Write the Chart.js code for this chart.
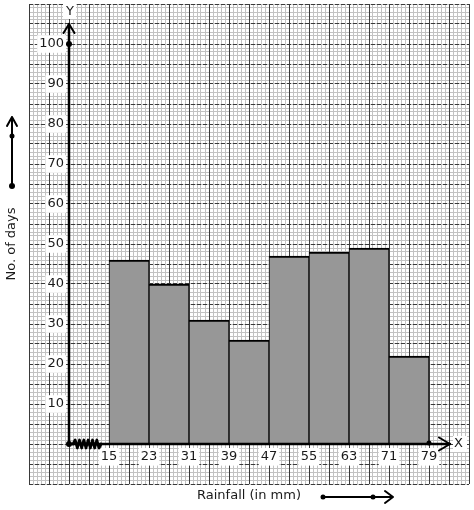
<!DOCTYPE html>
<html>
<head>
<meta charset="utf-8">
<script src="https://cdn.jsdelivr.net/npm/chart.js@4/dist/chart.umd.min.js"></script>
<style>
  html, body { margin: 0; padding: 0; background: #fff; }
</style>
</head>
<body>
<canvas id="chart" width="474" height="510"></canvas>
<script>
// --- data: rainfall classes (lower bounds, width 8 mm) and number of days ---
const classStarts = [15, 23, 31, 39, 47, 55, 63, 71];
const classWidth = 8;
const days = [46, 40, 31, 26, 47, 48, 49, 22];
const xTickLabels = [15, 23, 31, 39, 47, 55, 63, 71, 79];
const yTickLabels = [10, 20, 30, 40, 50, 60, 70, 80, 90, 100];

// visible window of the graph paper, in data units
const xMin = -1, xMax = 87;
const yMin = -10, yMax = 110;
const xOrigin = 7; // y axis sits here, the x scale is broken between 7 and 15

const FONT = 'DejaVu Sans';

// grid helper: tick values every `step` across [min, max]
function gridTicks(min, max, step) {
    const n = Math.round((max - min) / step);
    return Array.from({ length: n + 1 }, (_, i) => ({ value: min + i * step }));
}

function gridAxis(axis, min, max, step, color, z, dash) {
    return {
        type: 'linear', axis: axis, min: min, max: max, offset: false,
        position: axis === 'x' ? 'bottom' : 'left',
        afterBuildTicks: s => { s.ticks = gridTicks(min, max, step); },
        ticks: { display: false },
        grid: { color: color, lineWidth: 1, drawTicks: false, offset: false, z: z },
        border: { display: false, dash: dash || [] }
    };
}

function labelTicks(padding) {
    return {
        autoSkip: false, padding: padding, color: '#1a1a1a', z: 1,
        font: { family: FONT, size: 13 },
        showLabelBackdrop: true, backdropColor: '#ffffff',
        backdropPadding: { top: 1, bottom: 1, left: 2, right: 2 }
    };
}

// axis lines, arrows, kink and titles drawn on top
const paperExtras = {
    id: 'paperExtras',
    afterDraw(chart) {
        const ctx = chart.ctx;
        const x = chart.scales.x, y = chart.scales.y;
        const ox = x.getPixelForValue(xOrigin), oy = y.getPixelForValue(0);
        const yTip = y.getPixelForValue(105), xTip = x.getPixelForValue(83.2);

        ctx.save();
        ctx.strokeStyle = '#000';
        ctx.fillStyle = '#000';
        ctx.lineCap = 'round';
        ctx.lineJoin = 'round';

        // axes
        ctx.lineWidth = 2.5;
        ctx.beginPath();
        ctx.moveTo(ox, oy); ctx.lineTo(ox, yTip);
        ctx.moveTo(ox, oy); ctx.lineTo(xTip, oy);
        ctx.stroke();
        ctx.lineWidth = 2;
        ctx.beginPath();
        ctx.moveTo(ox - 5.5, yTip + 9); ctx.lineTo(ox, yTip); ctx.lineTo(ox + 5.5, yTip + 9);
        ctx.moveTo(xTip - 11, oy - 6.5); ctx.lineTo(xTip, oy); ctx.lineTo(xTip - 11, oy + 6.5);
        ctx.stroke();

        // kink on the x axis
        ctx.lineWidth = 2.8;
        ctx.beginPath();
        const k0 = ox + 4, k1 = x.getPixelForValue(classStarts[0]) - 10;
        const seg = (k1 - k0) / 12;
        ctx.moveTo(k0, oy);
        for (let i = 1; i <= 12; i++) {
            ctx.lineTo(k0 + i * seg, oy + (i % 2 ? -4 : 4));
        }
        ctx.lineTo(k1 + 2, oy);
        ctx.stroke();

        // dots
        const dot = (px, py, r) => { ctx.beginPath(); ctx.arc(px, py, r, 0, Math.PI * 2); ctx.fill(); };
        dot(ox, oy, 3);
        dot(ox, y.getPixelForValue(100), 3);
        dot(x.getPixelForValue(79), oy - 1, 2.5);

        // axis letters
        ctx.font = '13px "' + FONT + '"';
        ctx.textAlign = 'center';
        ctx.textBaseline = 'middle';
        ctx.fillStyle = '#fff';
        ctx.fillRect(ox - 6, 4, 13, 15);
        ctx.fillRect(xTip + 3, oy - 8, 14, 16);
        ctx.fillStyle = '#1a1a1a';
        ctx.fillText('Y', ox + 1, 12);
        ctx.fillText('X', xTip + 8.5, oy);

        // y title with its arrow
        ctx.save();
        ctx.translate(12, 244);
        ctx.rotate(-Math.PI / 2);
        ctx.fillText('No. of days', 0, 0);
        ctx.restore();
        ctx.fillStyle = '#000';
        ctx.lineWidth = 2;
        ctx.beginPath();
        ctx.moveTo(12, 186); ctx.lineTo(12, 117);
        ctx.moveTo(7, 126); ctx.lineTo(12, 117); ctx.lineTo(17, 126);
        ctx.stroke();
        dot(12, 186, 3);
        dot(12, 136, 2.5);

        // x title with its arrow
        ctx.fillStyle = '#1a1a1a';
        ctx.fillText('Rainfall (in mm)', 249, 496);
        ctx.fillStyle = '#000';
        ctx.beginPath();
        ctx.moveTo(323, 497); ctx.lineTo(393, 497);
        ctx.moveTo(385, 491); ctx.lineTo(393, 497); ctx.lineTo(385, 503);
        ctx.stroke();
        dot(323, 497, 2.5);
        dot(373, 497, 2.5);

        ctx.restore();
    }
};

new Chart(document.getElementById('chart'), {
    type: 'bar',
    data: {
        datasets: [{
            label: 'No. of days',
            xAxisID: 'x',
            yAxisID: 'y',
            data: classStarts.map((s, i) => ({ x: s + classWidth / 2, y: days[i] })),
            backgroundColor: '#979797',
            borderColor: '#000',
            borderWidth: { top: 2, left: 1, right: 1, bottom: 0 },
            borderSkipped: false,
            barPercentage: 1,
            categoryPercentage: 1
        }]
    },
    options: {
        responsive: false,
        animation: false,
        layout: { autoPadding: false, padding: { left: 29, top: 4, right: 5, bottom: 26 } },
        plugins: { legend: { display: false }, tooltip: { enabled: false } },
        scales: {
            x: {
                type: 'linear', min: xMin, max: xMax, offset: false,
                position: { y: 0 },
                afterBuildTicks: s => { s.ticks = xTickLabels.map(v => ({ value: v })); },
                grid: { display: false, drawTicks: false, offset: false },
                border: { display: false },
                ticks: labelTicks(5)
            },
            y: {
                type: 'linear', min: yMin, max: yMax,
                position: { x: xOrigin - 1 },
                afterBuildTicks: s => { s.ticks = yTickLabels.map(v => ({ value: v })); },
                grid: { display: false, drawTicks: false },
                border: { display: false },
                // labels sit at the axis position; negative padding keeps them
                // from pushing the chart area down
                ticks: labelTicks(-8)
            },
            xMinor: gridAxis('x', xMin, xMax, 0.8, '#c2c2c2', -4),
            yMinor: gridAxis('y', yMin, yMax, 1, '#c2c2c2', -4),
            xMajor: gridAxis('x', xMin, xMax, 4, '#3a3a3a', -3),
            yMajor: gridAxis('y', yMin, yMax, 5, '#3a3a3a', -2, [4, 2])
        }
    },
    plugins: [paperExtras]
});
</script>
</body>
</html>
